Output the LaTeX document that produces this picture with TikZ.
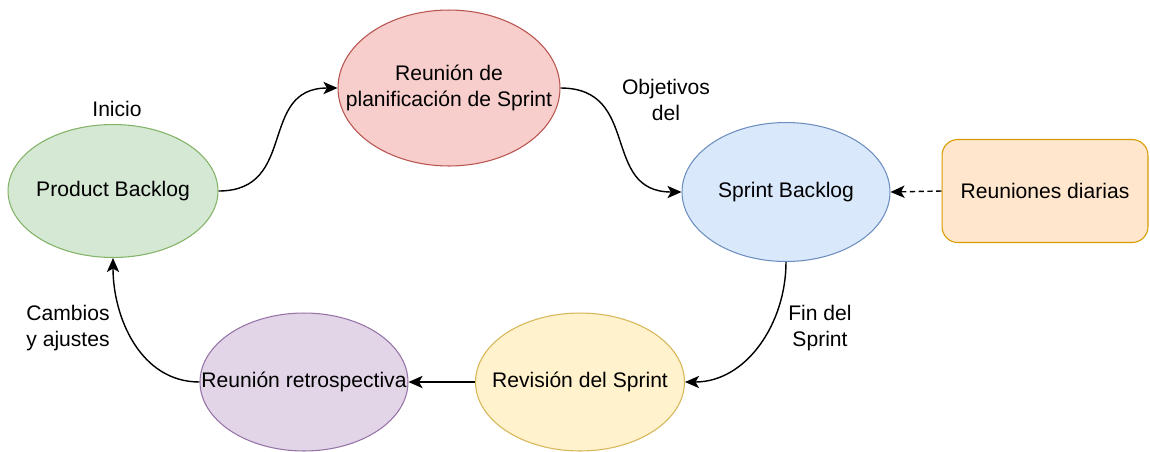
\documentclass[tikz,border=0pt]{standalone}
\usepackage{fontspec}
\setmainfont{Liberation Sans}
\usetikzlibrary{positioning, arrows.meta, shapes.geometric}

\definecolor{greenF}{HTML}{D5E8D4}\definecolor{greenD}{HTML}{82B366}
\definecolor{redF}{HTML}{F8CECC}\definecolor{redD}{HTML}{B85450}
\definecolor{blueF}{HTML}{DAE8FC}\definecolor{blueD}{HTML}{6C8EBF}
\definecolor{orangeF}{HTML}{FFE6CC}\definecolor{orangeD}{HTML}{D79B00}
\definecolor{yellowF}{HTML}{FFF2CC}\definecolor{yellowD}{HTML}{D6B656}
\definecolor{purpleF}{HTML}{E1D5E7}\definecolor{purpleD}{HTML}{9673A6}

\tikzset{
  phase/.style={draw, ellipse, line width=0.6pt, inner sep=0pt},
  flow/.style={-{Stealth[length=8pt, width=7pt, inset=2pt]}, line width=0.8pt},
  note/.style={align=center}
}

\begin{document}
\begin{tikzpicture}[x=0.02cm, y=-0.02cm, font=\fontsize{12}{14.4}\selectfont]
    \useasboundingbox (0,0) rectangle (1150,451);
    \node (Product) [phase, draw=greenD, fill=greenF, minimum width=4.2cm, minimum height=2.66cm, label=center:Product Backlog] at (113,191) {};
    \node (Planning) [phase, draw=redD, fill=redF, minimum width=4.44cm, minimum height=3.12cm, label={[note]center:Reunión de\\planificación de Sprint}] at (449,88) {};
    \node (SprintB) [phase, draw=blueD, fill=blueF, minimum width=4.16cm, minimum height=2.78cm, label=center:Sprint Backlog] at (786,192) {};
    \node (Daily) [draw=orangeD, fill=orangeF, line width=0.6pt, rounded corners=9pt, minimum width=4.12cm, minimum height=2.06cm] at (1045,191) {Reuniones diarias};
    \node (Review) [phase, draw=yellowD, fill=yellowF, minimum width=4.18cm, minimum height=2.76cm, label=center:Revisión del Sprint] at (580,382) {};
    \node (Retro) [phase, draw=purpleD, fill=purpleF, minimum width=4.16cm, minimum height=2.76cm, label=center:Reunión retrospectiva] at (304,382) {};
    \draw [flow] (Product.east) to[out=0, in=180, looseness=1.3] (Planning.west);
    \draw [flow] (Planning.east) to[out=0, in=180, looseness=1.3] (SprintB.west);
    \draw [flow, dashed, dash pattern=on 3pt off 2pt] (Daily.west) -- (SprintB.east);
    \draw [flow] (SprintB.south) to[out=-90, in=0] (Review.east);
    \draw [flow] (Review.west) -- (Retro.east);
    \draw [flow] (Retro.west) to[out=180, in=-90] (Product.south);
    \node (Start) at (117,109) {Inicio};
    \node (Goals) [note] at (666,100) {Objetivos\\del};
    \node (End) [note] at (820,328) {Fin del\\Sprint};
    \node (Changes) [note] at (68,328) {Cambios\\y ajustes};
\end{tikzpicture}
\end{document}
